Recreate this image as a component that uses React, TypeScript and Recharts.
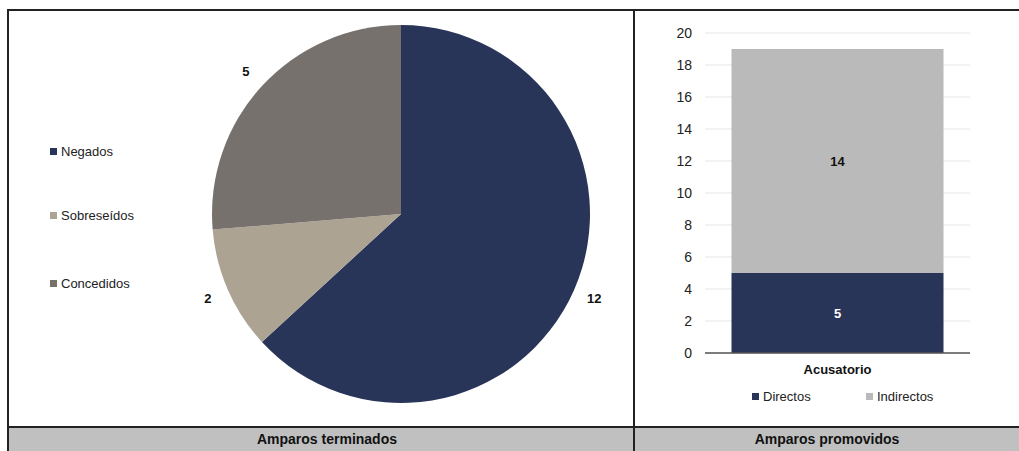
import React from 'react';
import {
  PieChart,
  Pie,
  Cell,
  BarChart,
  Bar,
  XAxis,
  YAxis,
  CartesianGrid,
  LabelList,
} from 'recharts';

const pieNames = ['Negados', 'Sobreseídos', 'Concedidos'];
const pieValues = [12, 2, 5];
const PIE_COLORS = ['#283559', '#aca393', '#77716e'];

const barCategories = ['Acusatorio'];
const directos = [5];
const indirectos = [14];
const barSeries = ['Directos', 'Indirectos'];
const BAR_COLORS = ['#283559', '#bababa'];
const yTicks = [0, 2, 4, 6, 8, 10, 12, 14, 16, 18, 20];

const FONT = '"Liberation Sans", Arial, sans-serif';
const RADIAN = Math.PI / 180;

const pieData = pieNames.map((name, i) => ({ name, value: pieValues[i] }));
const barData = barCategories.map((cat, i) => ({
  name: cat,
  Directos: directos[i],
  Indirectos: indirectos[i],
}));

// value labels sit outside the slices
const renderPieLabel = ({ cx, cy, midAngle, outerRadius, value }: any) => {
  const r = outerRadius + 22;
  const x = cx + r * Math.cos(-midAngle * RADIAN);
  const y = cy + r * Math.sin(-midAngle * RADIAN);
  return (
    <text
      x={x}
      y={y}
      fill="#111"
      fontSize={13}
      fontWeight="bold"
      fontFamily={FONT}
      textAnchor="middle"
      dominantBaseline="central"
    >
      {value}
    </text>
  );
};

const App = () => {
  return (
    <div
      style={{
        position: 'absolute',
        left: 0,
        top: 0,
        width: 1019,
        height: 451,
        background: '#fff',
        fontFamily: FONT,
        overflow: 'hidden',
      }}
    >
      {/* frame */}
      <div style={{ position: 'absolute', left: 8, top: 9, width: 1011, height: 2, background: '#222' }} />
      <div style={{ position: 'absolute', left: 7, top: 9, width: 2, height: 442, background: '#222' }} />
      <div style={{ position: 'absolute', left: 633, top: 9, width: 2, height: 442, background: '#222' }} />
      <div style={{ position: 'absolute', left: 8, top: 426, width: 1011, height: 2, background: '#222' }} />
      <div style={{ position: 'absolute', left: 9, top: 428, width: 624, height: 23, background: '#c0c0c0' }} />
      <div style={{ position: 'absolute', left: 635, top: 428, width: 384, height: 23, background: '#c0c0c0' }} />
      <div
        style={{
          position: 'absolute', left: 9, top: 431, width: 636, textAlign: 'center',
          fontSize: 14, fontWeight: 'bold', color: '#111',
        }}
      >
        Amparos terminados
      </div>
      <div
        style={{
          position: 'absolute', left: 635, top: 431, width: 384, textAlign: 'center',
          fontSize: 14, fontWeight: 'bold', color: '#111',
        }}
      >
        Amparos promovidos
      </div>

      {/* pie */}
      <div style={{ position: 'absolute', left: 0, top: 0 }}>
        <PieChart width={633} height={426} margin={{ top: 0, right: 0, bottom: 0, left: 0 }}>
          <Pie
            data={pieData}
            dataKey="value"
            cx={401}
            cy={214}
            outerRadius={189}
            startAngle={90}
            endAngle={-270}
            stroke="none"
            labelLine={false}
            label={renderPieLabel}
            isAnimationActive={false}
          >
            {pieData.map((entry, index) => (
              <Cell key={`cell-${index}`} fill={PIE_COLORS[index]} />
            ))}
          </Pie>
        </PieChart>
      </div>
      {pieNames.map((name, i) => (
        <div
          key={name}
          style={{
            position: 'absolute',
            left: 50,
            top: [144, 208, 276][i],
            fontSize: 13,
            color: '#222',
            display: 'flex',
            alignItems: 'center',
          }}
        >
          <span style={{ display: 'inline-block', width: 7, height: 7, background: PIE_COLORS[i], marginRight: 4 }} />
          {name}
        </div>
      ))}

      {/* stacked bar */}
      <div style={{ position: 'absolute', left: 634, top: 10 }}>
        <BarChart
          width={385}
          height={416}
          data={barData}
          margin={{ top: 23, right: 49, left: 31, bottom: 43 }}
          barCategoryGap="10%"
        >
          <CartesianGrid vertical={false} stroke="#e6e6e6" />
          <XAxis
            dataKey="name"
            height={30}
            tickSize={0}
            tickMargin={12}
            axisLine={{ stroke: '#555', strokeWidth: 1.5 }}
            tick={{ fontSize: 13, fontWeight: 'bold', fill: '#111', fontFamily: FONT }}
          />
          <YAxis
            width={40}
            domain={[0, 20]}
            ticks={yTicks}
            interval={0}
            tickSize={0}
            tickMargin={13}
            axisLine={false}
            tick={{ fontSize: 14, fill: '#222', fontFamily: FONT }}
          />
          <Bar dataKey="Directos" stackId="a" fill={BAR_COLORS[0]} isAnimationActive={false}>
            <LabelList dataKey="Directos" position="center" fill="#fff" fontSize={13} fontWeight="bold" fontFamily={FONT} />
          </Bar>
          <Bar dataKey="Indirectos" stackId="a" fill={BAR_COLORS[1]} isAnimationActive={false}>
            <LabelList dataKey="Indirectos" position="center" fill="#111" fontSize={13} fontWeight="bold" fontFamily={FONT} />
          </Bar>
        </BarChart>
      </div>
      {barSeries.map((name, i) => (
        <div
          key={name}
          style={{
            position: 'absolute',
            left: [752, 866][i],
            top: 389,
            fontSize: 13,
            color: '#222',
            display: 'flex',
            alignItems: 'center',
          }}
        >
          <span style={{ display: 'inline-block', width: 7, height: 7, background: BAR_COLORS[i], marginRight: 4 }} />
          {name}
        </div>
      ))}
    </div>
  );
};

export default App;
